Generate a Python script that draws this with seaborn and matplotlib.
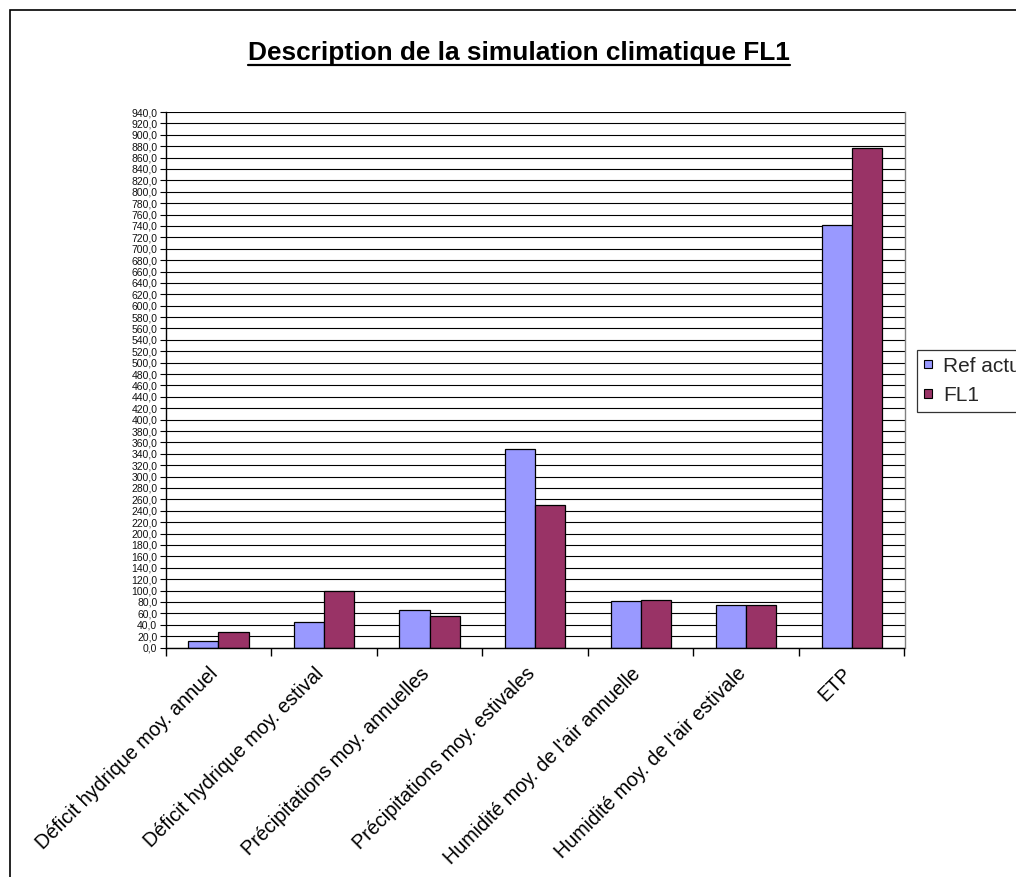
import matplotlib
matplotlib.use("Agg")
import matplotlib.pyplot as plt
import seaborn as sns
import pandas as pd
import numpy as np
from matplotlib.patches import Rectangle
from matplotlib.lines import Line2D
from matplotlib.ticker import MultipleLocator, FuncFormatter
from matplotlib.transforms import ScaledTranslation

# Indicators of the climate simulation
categories = [
    "Déficit hydrique moy. annuel",
    "Déficit hydrique moy. estival",
    "Précipitations moy. annuelles",
    "Précipitations moy. estivales",
    "Humidité moy. de l'air annuelle",
    "Humidité moy. de l'air estivale",
    "ETP",
]
ref_actuel = [11, 44, 66, 349, 82, 75, 742]
fl1 = [28, 99, 55, 251, 83, 75, 876]
series_names = ["Ref actuel", "FL1"]
colors = ["#9999FF", "#993366"]

df = pd.DataFrame({
    "indicateur": categories * 2,
    "valeur": ref_actuel + fl1,
    "serie": [series_names[0]] * len(categories) + [series_names[1]] * len(categories),
})

sns.set_theme(style="white")
plt.rcParams["font.family"] = ["Liberation Sans", "DejaVu Sans"]

W, H = 1016, 877
fig = plt.figure(figsize=(W / 100, H / 100), dpi=100)
fig.patch.set_facecolor("white")

# plot area in pixel coordinates
x0, x1 = 165.7, 904.5
y_top, y_bot = 112.0, 647.5
ax = fig.add_axes([x0 / W, 1 - y_bot / H, (x1 - x0) / W, (y_bot - y_top) / H])

sns.barplot(
    data=df, x="indicateur", y="valeur", hue="serie",
    palette=colors, width=0.57, gap=0, edgecolor="black", linewidth=0.9,
    saturation=1, ax=ax, legend=False,
)

ax.set_ylim(0, 940)
ax.set_xlim(-0.5, len(categories) - 0.5)
ax.yaxis.set_major_locator(MultipleLocator(20))
ax.yaxis.set_major_formatter(FuncFormatter(lambda v, p: f"{v:.1f}".replace(".", ",")))
ax.set_axisbelow(True)
ax.yaxis.grid(True, color="black", linewidth=0.8)
ax.xaxis.grid(False)
ax.set_xlabel("")
ax.set_ylabel("")

for side in ["left", "bottom"]:
    ax.spines[side].set_color("black")
    ax.spines[side].set_linewidth(1.0)
ax.spines["top"].set_visible(False)
ax.spines["right"].set_color("#808080")
ax.spines["right"].set_linewidth(1.0)

ax.tick_params(axis="y", which="major", left=True, length=4, width=0.8,
               color="black", labelsize=7.5, pad=2, labelcolor="#111111")

# category ticks sit between groups; labels at group centers
ax.set_xticks(np.arange(len(categories)))
ax.set_xticklabels(categories, rotation=45, ha="right", va="top",
                   rotation_mode="anchor", fontsize=14.2, color="black")
ax.tick_params(axis="x", which="major", bottom=False, pad=6)
ax.set_xticks(np.arange(len(categories) + 1) - 0.5, minor=True)
ax.tick_params(axis="x", which="minor", bottom=True, length=6, width=1.0, color="black")
shift = ScaledTranslation(-10 / 100, 0, fig.dpi_scale_trans)
for lbl in ax.get_xticklabels():
    lbl.set_transform(lbl.get_transform() + shift)

# legend with small square swatches
handles = [Rectangle((0, 0), 1, 1, facecolor=c, edgecolor="black", linewidth=0.8)
           for c in colors]
leg = fig.legend(handles, series_names, loc="upper left",
                 bbox_to_anchor=(917 / W, 1 - 350 / H), bbox_transform=fig.transFigure,
                 frameon=True, fancybox=False, fontsize=15, handlelength=0.4,
                 handleheight=0.24, handletextpad=0.55, borderaxespad=0,
                 borderpad=0.32, labelspacing=0.5)
leg.get_frame().set_edgecolor("black")
leg.get_frame().set_linewidth(0.9)

# title, underlined
title = fig.text(519 / W, 1 - 60 / H, "Description de la simulation climatique FL1",
                 ha="center", va="baseline", fontsize=18.9, fontweight="bold", color="black")
fig.canvas.draw()
bb = title.get_window_extent(renderer=fig.canvas.get_renderer())
uy = (H - 65) / H
fig.add_artist(Line2D([bb.x0 / W, bb.x1 / W], [uy, uy], transform=fig.transFigure,
                      color="black", linewidth=1.6))

# chart area border
fig.add_artist(Rectangle((9.5 / W, -0.05), 1.2, 1.05 - 9.5 / H,
                         transform=fig.transFigure, fill=False,
                         edgecolor="black", linewidth=1.2))

fig.savefig("out.png", dpi=100)
